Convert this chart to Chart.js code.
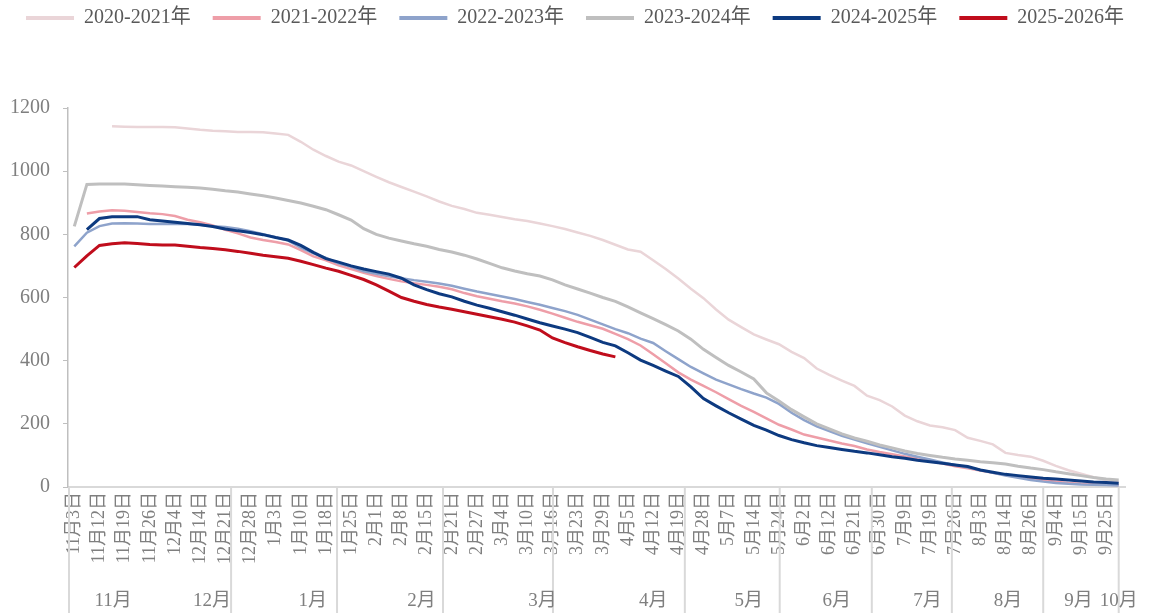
<!DOCTYPE html>
<html>
<head>
<meta charset="utf-8">
<script src="https://cdn.jsdelivr.net/npm/chart.js@4.4.1/dist/chart.umd.min.js"></script>
<style>
  html, body { margin: 0; padding: 0; background: #ffffff; }
  #wrap { width: 1150px; height: 616px; }
</style>
</head>
<body>
<div id="wrap"><canvas id="c" width="1150" height="616"></canvas></div>
<script>
// ---- tick labels (one per date label; chart uses half-steps between them) ----
const dateLabels = ['11月3日','11月12日','11月19日','11月26日','12月4日','12月14日','12月21日','12月28日',
  '1月3日','1月10日','1月18日','1月25日','2月1日','2月8日','2月15日','2月21日','2月27日',
  '3月4日','3月10日','3月16日','3月23日','3月29日','4月5日','4月12日','4月19日','4月28日',
  '5月7日','5月14日','5月24日','6月2日','6月12日','6月21日','6月30日','7月9日','7月19日',
  '7月26日','8月3日','8月14日','8月26日','9月4日','9月15日','9月25日'];

const seriesNames = ['2020-2021年','2021-2022年','2022-2023年','2023-2024年','2024-2025年','2025-2026年'];

// ---- group (month) labels, positioned in date-label units ----
const monthLabels = ['11月','12月','1月','2月','3月','4月','5月','6月','7月','8月','9月','10月'];
const monthPos    = [1.54, 5.47, 9.48, 13.8, 18.6, 23.0, 26.8, 30.3, 33.9, 37.1, 39.9, 41.5];
const monthSeps   = [6.23, 10.44, 14.65, 19.02, 24.26, 28.03, 31.69, 34.87, 38.5, 41.5];

// ---- series values (one value per half date-label step, 84 steps) ----
const s2020 = [
  null,null,null,1142,1141,1140,1140,1140,1139,1135,
  1131,1128,1126,1124,1124,1123,1119,1115,1093,1068,
  1048,1030,1018,1000,982,965,950,935,920,904,
  890,880,868,862,855,848,842,834,826,817,
  806,795,782,767,752,745,718,690,660,628,
  598,562,530,506,483,467,452,428,408,375,
  355,337,320,289,275,255,226,208,195,189,
  180,156,146,135,108,101,96,83,67,53,
  42,31,22,17];
const s2021 = [
  null,866,872,876,875,871,867,864,858,846,
  838,828,814,803,790,782,776,768,750,730,
  718,702,690,678,668,659,651,645,640,634,
  626,614,604,596,588,581,572,561,549,536,
  523,512,501,485,468,448,420,392,363,340,
  320,300,278,257,238,217,197,182,166,157,
  147,138,130,119,111,104,97,90,82,74,
  66,59,52,45,38,32,26,21,17,13,
  10,8,7,6];
const s2022 = [
  762,805,826,834,835,834,833,833,833,833,
  830,826,823,818,810,800,791,780,758,740,
  725,708,697,683,675,667,661,655,650,644,
  637,628,619,611,603,595,586,577,567,557,
  545,530,515,500,487,470,456,430,405,380,
  360,340,325,310,296,283,263,235,212,192,
  177,162,150,138,127,116,105,96,87,78,
  70,62,54,45,36,29,22,17,13,10,
  8,7,6,5];
const s2023 = [
  825,958,959,959,959,957,955,953,951,949,
  947,943,938,934,928,922,915,907,899,889,
  878,862,845,818,800,788,779,770,762,752,
  744,734,722,708,694,684,675,668,656,640,
  627,614,600,588,570,551,533,514,494,468,
  436,410,385,364,342,298,272,245,222,200,
  184,168,155,145,133,124,114,106,100,94,
  89,85,80,77,73,66,60,55,48,42,
  36,30,25,22];
const s2024 = [
  null,815,850,856,856,856,846,842,838,834,
  830,825,817,811,806,799,790,782,765,743,
  723,712,700,690,682,674,661,640,625,612,
  602,588,576,566,555,544,532,520,510,500,
  489,474,458,447,425,402,385,367,350,317,
  280,257,235,215,195,180,163,150,140,131,
  125,119,113,108,102,96,91,85,80,75,
  70,65,54,47,40,36,32,28,25,22,
  19,16,14,12];
const s2025 = [
  695,732,765,770,773,771,768,766,766,762,
  758,755,751,746,740,734,729,724,715,704,
  693,683,670,657,640,620,600,588,578,570,
  563,555,547,539,531,522,510,497,472,457,
  444,432,421,412];

// ---- build category list: date label, then a blank half-step ----
const categories = [];
dateLabels.forEach(l => { categories.push(l); categories.push(''); });

const colors = ['#ead5d8','#ee9ea8','#8ea3cb','#bfbfbf','#0d3a80','#c00d1c'];
const widths = [2.5, 2.5, 2.5, 3, 3, 3];
const values = [s2020, s2021, s2022, s2023, s2024, s2025];

const datasets = values.map((v, i) => ({
  label: seriesNames[i],
  data: v,
  borderColor: colors[i],
  backgroundColor: colors[i],
  borderWidth: widths[i],
  pointRadius: 0,
  tension: 0,
  fill: false,
  spanGaps: false,
  order: 5 - i
}));

const serif = '"Liberation Serif", "Times New Roman", "Noto Sans CJK SC", serif';

const legendSpace = {
  id: 'legendSpace',
  beforeInit(chart) {
    const origFit = chart.legend.fit;
    chart.legend.fit = function () {
      origFit.bind(chart.legend)();
      this.height += 70;
    };
  }
};

const monthPlugin = {
  id: 'months',
  afterDraw(chart) {
    const { ctx, chartArea, scales: { x } } = chart;
    const yTop = chartArea.bottom;
    const yBot = chart.height - 3;
    ctx.save();
    ctx.strokeStyle = '#d9d9d9';
    ctx.lineWidth = 2;
    const seps = [chartArea.left + 1].concat(monthSeps.map(j => x.getPixelForValue(j * 2)));
    seps.forEach(px => {
      ctx.beginPath();
      ctx.moveTo(px, yTop);
      ctx.lineTo(px, yBot);
      ctx.stroke();
    });
    ctx.fillStyle = '#7f7f7f';
    ctx.font = '19px ' + serif;
    ctx.textAlign = 'center';
    ctx.textBaseline = 'middle';
    monthLabels.forEach((t, i) => ctx.fillText(t, x.getPixelForValue(monthPos[i] * 2), 601));
    ctx.restore();
  }
};

new Chart(document.getElementById('c'), {
  type: 'line',
  data: { labels: categories, datasets: datasets },
  options: {
    responsive: false,
    animation: false,
    layout: { padding: { top: -14, right: 0, left: 0, bottom: 0 } },
    plugins: {
      tooltip: { enabled: false },
      legend: {
        display: true,
        position: 'top',
        labels: {
          boxWidth: 48,
          boxHeight: 4,
          padding: 22,
          color: '#595959',
          font: { family: serif, size: 20 },
          sort: (a, b) => a.datasetIndex - b.datasetIndex,
          generateLabels(chart) {
            return Chart.defaults.plugins.legend.labels.generateLabels(chart)
              .map(l => Object.assign(l, { lineWidth: 0 }));
          }
        }
      }
    },
    scales: {
      x: {
        type: 'category',
        offset: true,
        grid: { display: false, drawTicks: false },
        border: { display: true, color: '#d9d9d9', width: 2 },
        ticks: {
          autoSkip: false,
          minRotation: 90,
          maxRotation: 90,
          padding: 5,
          color: '#7f7f7f',
          font: { family: serif, size: 18 }
        },
        afterFit(s) { s.height = 129; }
      },
      y: {
        min: 0,
        max: 1200,
        ticks: {
          stepSize: 200, color: '#7f7f7f', padding: 13,
          font: { family: serif, size: 20 },
          callback: v => String(v)
        },
        grid: { drawOnChartArea: false, drawTicks: true, tickLength: 5, color: '#bfbfbf' },
        border: { display: true, color: '#bfbfbf', width: 1.5 },
        afterFit(s) { s.width = 68; }
      },
      yRight: {
        position: 'right',
        display: true,
        grid: { display: false, drawTicks: false },
        border: { display: false },
        ticks: { display: false },
        afterFit(s) { s.width = 25; }
      }
    }
  },
  plugins: [legendSpace, monthPlugin]
});
</script>
</body>
</html>
